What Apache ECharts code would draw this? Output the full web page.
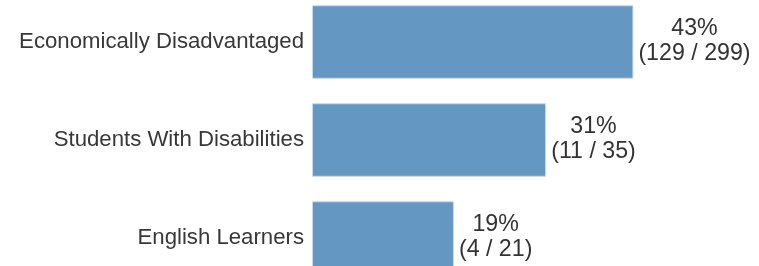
<!DOCTYPE html>
<html>
<head>
<meta charset="utf-8">
<script src="https://cdn.jsdelivr.net/npm/echarts@6/dist/echarts.min.js"></script>
<style>
html,body{margin:0;padding:0;background:#fff;overflow:hidden;width:759px;height:266px;position:relative;}
#chart{width:759px;height:294px;position:absolute;left:0;top:-7px;}
</style>
</head>
<body>
<div id="chart"></div>
<script>
var categories = ['Economically Disadvantaged', 'Students With Disabilities', 'English Learners'];
var values = [43.14, 31.43, 19.05];
var percentLabels = ['43%', '31%', '19%'];
var numerators = [129, 11, 4];
var denominators = [299, 35, 21];

var chart = echarts.init(document.getElementById('chart'));
var FONT = '"Liberation Sans", Arial, sans-serif';
chart.setOption({
  animation: false,
  grid: { left: 312, right: 0, top: 0, bottom: 0, containLabel: false },
  xAxis: {
    type: 'value', min: 0, max: 60,
    show: false
  },
  yAxis: {
    type: 'category', data: categories, inverse: true,
    axisLine: { show: false }, axisTick: { show: false },
    axisLabel: { fontFamily: FONT, fontSize: 22.2, color: '#383838', margin: 8, padding: [2, 0, 0, 0] }
  },
  series: [{
    type: 'bar',
    data: values,
    barWidth: '75%',
    itemStyle: { color: '#6497c1', borderColor: '#c6daea', borderWidth: 1 },
    label: {
      show: true,
      position: 'right',
      distance: 5,
      offset: [0, -1],
      fontFamily: FONT,
      fontSize: 23.2,
      lineHeight: 25,
      align: 'left',
      color: '#333',
      rich: {
        c: { fontFamily: FONT, fontSize: 23.2, lineHeight: 25, color: '#333', align: 'center' }
      },
      formatter: function (p) {
        var i = p.dataIndex;
        return '{c|' + percentLabels[i] + '}\n{c|(' + numerators[i] + ' / ' + denominators[i] + ')}';
      }
    }
  }]
});
</script>
</body>
</html>
